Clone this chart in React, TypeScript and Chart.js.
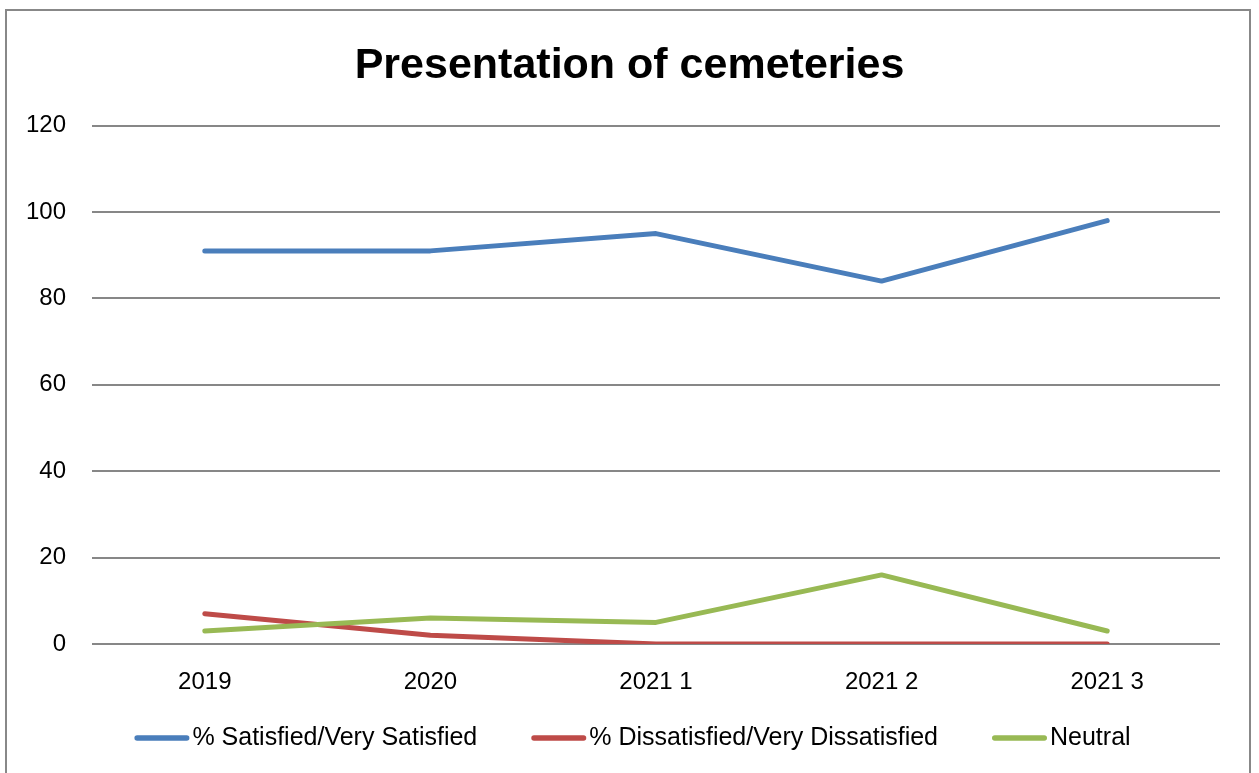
import React, { useEffect, useRef } from "react";
import { Chart, registerables } from "chart.js";

Chart.register(...registerables);

const categories = ["2019", "2020", "2021 1", "2021 2", "2021 3"];
const satisfied = [91, 91, 95, 84, 98];
const dissatisfied = [7, 2, 0, 0, 0];
const neutral = [3, 6, 5, 16, 3];
const seriesNames = ["% Satisfied/Very Satisfied", "% Dissatisfied/Very Dissatisfied", "Neutral"];
const seriesColors = ["#4A7EBB", "#BE4B48", "#98B954"];
const yTicks = [0, 20, 40, 60, 80, 100, 120];

const FONT = "'Liberation Sans', Arial, sans-serif";

const bottomLegend = {
  id: "bottomLegend",
  afterDraw(chart: any) {
    const ctx = chart.ctx as CanvasRenderingContext2D;
    const ds = chart.data.datasets;
    const lineLen = 55;
    const gap = 3;
    const spacing = 54;
    const cy = 738;
    ctx.save();
    ctx.font = `25px ${FONT}`;
    const widths = ds.map((d: any) => ctx.measureText(d.label).width);
    const total =
      widths.reduce((a: number, w: number) => a + w + lineLen + gap, 0) + spacing * (ds.length - 1);
    let x = 632.5 - total / 2;
    ds.forEach((d: any, i: number) => {
      ctx.strokeStyle = d.borderColor;
      ctx.lineWidth = 5.5;
      ctx.lineCap = "round";
      ctx.beginPath();
      ctx.moveTo(x + 2.75, cy);
      ctx.lineTo(x + lineLen - 2.75, cy);
      ctx.stroke();
      ctx.fillStyle = "#000";
      ctx.textBaseline = "middle";
      ctx.textAlign = "left";
      ctx.fillText(d.label, x + lineLen + gap, cy);
      x += lineLen + gap + widths[i] + spacing;
    });
    ctx.restore();
  },
};

export default function App() {
  const ref = useRef<HTMLCanvasElement | null>(null);

  useEffect(() => {
    if (!ref.current) return;
    const mk = (i: number, data: number[], order: number) => ({
      label: seriesNames[i],
      data,
      borderColor: seriesColors[i],
      backgroundColor: seriesColors[i],
      borderWidth: 5,
      borderCapStyle: "round" as const,
      borderJoinStyle: "round" as const,
      pointRadius: 0,
      pointHoverRadius: 0,
      tension: 0,
      order,
    });
    const chart = new Chart(ref.current, {
      type: "line",
      data: {
        labels: categories,
        datasets: [mk(0, satisfied, 2), mk(1, dissatisfied, 1), mk(2, neutral, 0)],
      },
      plugins: [bottomLegend],
      options: {
        animation: false,
        responsive: false,
        maintainAspectRatio: false,
        layout: { padding: { left: 0, right: 0, top: 0, bottom: 69 } },
        plugins: {
          tooltip: { enabled: false },
          legend: { display: false },
          title: {
            display: true,
            text: "Presentation of cemeteries",
            color: "#000",
            font: { family: FONT, size: 43, weight: "bold" },
            padding: { top: 40, bottom: 34 },
          },
        },
        scales: {
          x: {
            offset: true,
            grid: { display: false, drawTicks: false },
            border: { display: false },
            ticks: { color: "#000", font: { family: FONT, size: 24 }, padding: 24, maxRotation: 0, autoSkip: false },
            afterFit: (s: any) => {
              s.height = 60;
            },
          },
          y: {
            min: 0,
            max: 120,
            afterBuildTicks: (s: any) => {
              s.ticks = yTicks.map((v) => ({ value: v }));
            },
            grid: { color: "#878787", lineWidth: 2, drawTicks: false },
            border: { display: false },
            ticks: { color: "#000", font: { family: FONT, size: 24 }, padding: 26 },
            afterFit: (s: any) => {
              s.width = 92;
            },
          },
          yRight: {
            type: "linear",
            position: "right",
            min: 0,
            max: 120,
            grid: { display: false, drawTicks: false },
            border: { display: false },
            ticks: { display: false },
            afterFit: (s: any) => {
              s.width = 39;
            },
          },
        },
      },
    });
    return () => chart.destroy();
  }, []);

  return (
    <div style={{ position: "fixed", left: 0, top: 0, width: 1259, height: 773, background: "#fff", overflow: "hidden" }}>
      <canvas ref={ref} width={1259} height={773} style={{ position: "absolute", left: 0, top: 0, width: 1259, height: 773 }} />
      <div
        style={{
          position: "absolute",
          left: 5,
          top: 9,
          width: 1246,
          height: 800,
          boxSizing: "border-box",
          border: "2px solid #888",
          pointerEvents: "none",
        }}
      />
    </div>
  );
}
